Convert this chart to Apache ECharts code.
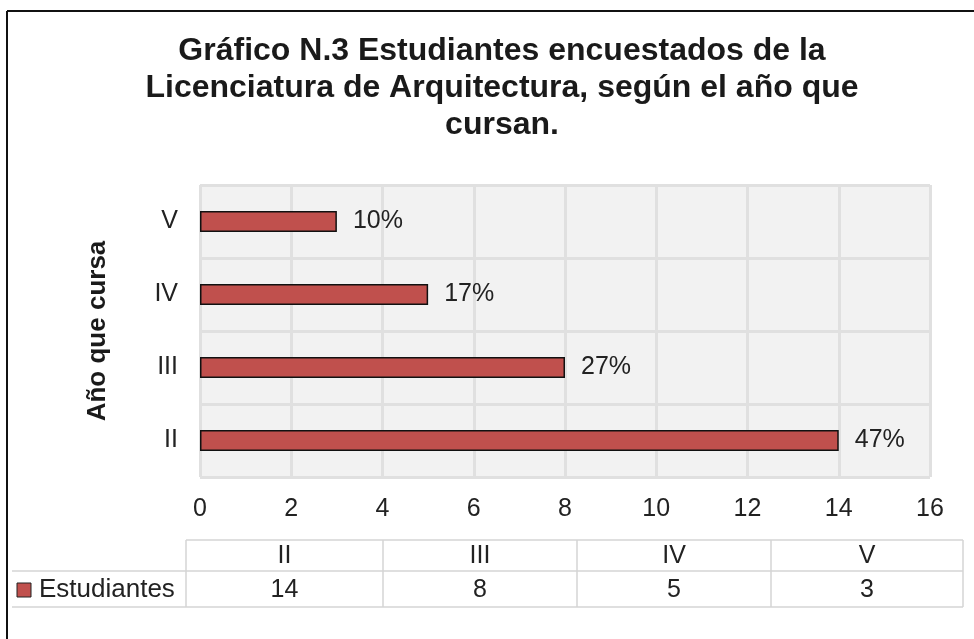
<!DOCTYPE html>
<html>
<head>
<meta charset="utf-8">
<title>Gráfico N.3</title>
<script src="https://cdn.jsdelivr.net/npm/echarts@6/dist/echarts.min.js"></script>
<style>
  html, body { margin: 0; padding: 0; background: #fff; }
  #main { width: 974px; height: 639px; }
</style>
</head>
<body>
<div id="main"></div>
<script>
// datos
var anios = ['II', 'III', 'IV', 'V'];
var estudiantes = [14, 8, 5, 3];
var porcentajes = ['47%', '27%', '17%', '10%'];
var ticksX = [0, 2, 4, 6, 8, 10, 12, 14, 16];

var fuente = '"Liberation Sans", Arial, sans-serif';
var myChart = echarts.init(document.getElementById('main'));

// tabla de datos bajo el grafico
var tabla = [];
var colX = [186, 383, 577, 771, 963];
var filaY = [540, 571, 607];
var gris = '#d4d4d4';
// lineas horizontales
tabla.push({ type: 'line', shape: { x1: 186, y1: filaY[0], x2: 963, y2: filaY[0] }, style: { stroke: gris, lineWidth: 1.5 } });
tabla.push({ type: 'line', shape: { x1: 12, y1: filaY[1], x2: 963, y2: filaY[1] }, style: { stroke: gris, lineWidth: 1.5 } });
tabla.push({ type: 'line', shape: { x1: 12, y1: filaY[2], x2: 963, y2: filaY[2] }, style: { stroke: gris, lineWidth: 1.5 } });
colX.forEach(function (x) {
    tabla.push({ type: 'line', shape: { x1: x, y1: filaY[0], x2: x, y2: filaY[2] }, style: { stroke: gris, lineWidth: 1.5 } });
});
anios.forEach(function (a, i) {
    var cx = (colX[i] + colX[i + 1]) / 2;
    tabla.push({ type: 'text', x: cx, y: 556, style: { text: a, font: '25px ' + fuente, fill: '#222', align: 'center', verticalAlign: 'middle' } });
    tabla.push({ type: 'text', x: cx, y: 590, style: { text: String(estudiantes[i]), font: '25px ' + fuente, fill: '#222', align: 'center', verticalAlign: 'middle' } });
});
tabla.push({ type: 'rect', shape: { x: 17, y: 583, width: 14, height: 14 }, style: { fill: '#c0504d', stroke: '#222', lineWidth: 1 } });
tabla.push({ type: 'text', x: 39, y: 590, style: { text: 'Estudiantes', font: '26px ' + fuente, fill: '#222', verticalAlign: 'middle' } });
// marco exterior
tabla.push({ type: 'line', shape: { x1: 7, y1: 11, x2: 974, y2: 11 }, style: { stroke: '#111', lineWidth: 2 } });
tabla.push({ type: 'line', shape: { x1: 7, y1: 11, x2: 7, y2: 639 }, style: { stroke: '#111', lineWidth: 2 } });

myChart.setOption({
    backgroundColor: '#ffffff',
    title: {
        text: 'Gráfico N.3 Estudiantes encuestados de la\nLicenciatura de Arquitectura, según el año que\ncursan.',
        left: 502,
        textAlign: 'center',
        top: 33,
        padding: 0,
        textStyle: { fontFamily: fuente, fontWeight: 'bold', fontSize: 32, lineHeight: 37, color: '#1a1a1a' }
    },
    grid: {
        left: 200, right: 44, top: 185, bottom: 162,
        show: true, backgroundColor: '#f2f2f2', borderColor: '#dcdcdc', borderWidth: 1
    },
    xAxis: {
        type: 'value',
        min: ticksX[0], max: ticksX[ticksX.length - 1], interval: 2,
        axisLine: { show: false },
        axisTick: { show: false },
        axisLabel: { fontFamily: fuente, fontSize: 25, color: '#222', margin: 20 },
        splitLine: { lineStyle: { color: '#e0e0e0', width: 3 } }
    },
    yAxis: {
        type: 'category',
        data: anios,
        name: 'Año que cursa',
        nameLocation: 'middle',
        nameGap: 89,
        nameRotate: 90,
        nameTextStyle: { fontFamily: fuente, fontWeight: 'bold', fontSize: 26, color: '#1a1a1a' },
        axisLine: { show: false },
        axisTick: { show: false },
        axisLabel: { fontFamily: fuente, fontSize: 25, color: '#222', margin: 22 },
        splitLine: { show: true, lineStyle: { color: '#e0e0e0', width: 3 } }
    },
    series: [{
        name: 'Estudiantes',
        type: 'bar',
        data: estudiantes,
        barWidth: 21,
        itemStyle: { color: '#c0504d', borderColor: '#111', borderWidth: 1.5 },
        label: {
            show: true,
            position: 'right',
            distance: 16,
            fontFamily: fuente,
            fontSize: 25,
            color: '#222',
            formatter: function (p) { return porcentajes[p.dataIndex]; }
        }
    }],
    graphic: tabla
});
</script>
</body>
</html>
